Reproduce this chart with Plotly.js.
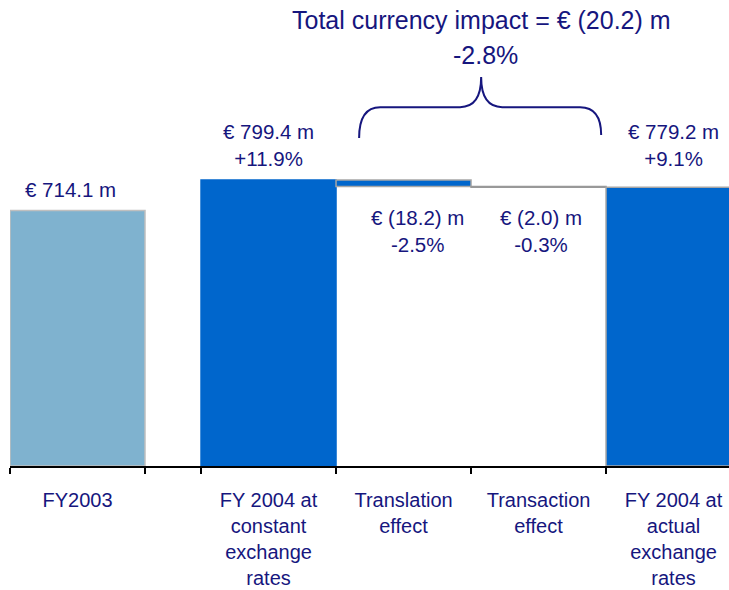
<!DOCTYPE html>
<html>
<head>
<meta charset="utf-8">
<script src="https://cdn.plot.ly/plotly-3.0.1.min.js"></script>
<style>html,body{margin:0;padding:0;background:#fff;}</style>
</head>
<body>
<div id="chart" style="width:729px;height:590px;"></div>
<script>
// ---- data ----
const categories = ['FY2003', 'FY 2004 at<br>constant<br>exchange<br>rates', 'Translation<br>effect', 'Transaction<br>effect', 'FY 2004 at<br>actual<br>exchange<br>rates'];
const values = [714.1, 799.4, -18.2, -2.0, 779.2];
const kinds = ['total', 'total', 'delta', 'delta', 'total'];
const pctLabels = ['', '+11.9%', '-2.5%', '-0.3%', '+9.1%'];
const impactValue = -20.2;
const impactPct = '-2.8%';

// ---- layout constants ----
const NAVY = '#16167e';
const FONT = 'Liberation Sans, Arial, sans-serif';
const gap = 0.415;            // extra gap after first column (in column widths)
const barColors = ['#7fb2cf', '#0066cc', '#0066cc', '#ffffff', '#0066cc'];
const lineColors = ['#bfbfbf', '#0066cc', '#a6a6a6', '#999999', '#a6a6a6'];

const pos = categories.map((c, i) => i + 0.5 + (i > 0 ? gap : 0));
let running = 0;
const bases = [], heights = [];
values.forEach((v, i) => {
  if (kinds[i] === 'total') { bases.push(0); heights.push(v); running = v; }
  else { bases.push(running + v); heights.push(-v); running += v; }
});

function euro(v) {
  return v < 0 ? '€ (' + Math.abs(v).toFixed(1) + ') m' : '€ ' + v.toFixed(1) + ' m';
}

const trace = {
  type: 'bar', x: pos, y: heights, base: bases, width: 1,
  marker: { color: barColors, line: { color: lineColors, width: 1.5 } },
  hoverinfo: 'skip', showlegend: false, xaxis: 'x', yaxis: 'y'
};
const tickTrace = { type: 'scatter', x: [pos[0]], y: [0], mode: 'none', xaxis: 'x2', yaxis: 'y', showlegend: false, hoverinfo: 'skip' };

const edges = [];
pos.forEach(p => { edges.push(p - 0.5); });
edges.push(pos[0] + 0.5);

const annotations = [];
const labelTop = Math.max.apply(null, heights.map((h, i) => kinds[i] === 'total' && i > 0 ? h : 0));
values.forEach((v, i) => {
  const font = { family: FONT, size: 20.5, color: NAVY };
  const txt = pctLabels[i] ? euro(v) + '<br>' + pctLabels[i] : euro(v);
  if (kinds[i] === 'total') {
    annotations.push({ x: pos[i], y: i === 0 ? heights[i] : labelTop, xref: 'x', yref: 'y', text: txt, showarrow: false,
      yanchor: 'bottom', yshift: 8, xshift: i === 0 ? -7 : 0, font: font });
  } else {
    annotations.push({ x: pos[i], y: bases[i], xref: 'x', yref: 'y', text: txt, showarrow: false,
      yanchor: 'top', yshift: -17, xshift: i === 2 ? 14 : 2, font: font });
  }
});

// brace over the two currency effects
const cx = (pos[2] + pos[3]) / 2 + 0.075;
const yH = 1003, yTip = 1087, yEndL = 917, yEndR = 925;
const xl = cx - 0.904, xr = cx + 0.889, r = 0.156;
const bracePath = `M ${xl},${yEndL} Q ${xl},${yH} ${xl + r},${yH} L ${cx - r},${yH} Q ${cx},${yH} ${cx},${yTip} Q ${cx},${yH} ${cx + r},${yH} L ${xr - r},${yH} Q ${xr},${yH} ${xr},${yEndR}`;

annotations.push({ x: cx, y: 0.957, xref: 'x', yref: 'paper', text: 'Total currency impact = ' + euro(impactValue),
  showarrow: false, yanchor: 'middle', font: { family: FONT, size: 25, color: NAVY } });
annotations.push({ x: cx, y: 0.882, xref: 'x', yref: 'paper', text: impactPct, xshift: 4,
  showarrow: false, yanchor: 'middle', font: { family: FONT, size: 25, color: NAVY } });

const xRange = [0, 719 / 135];
const layout = {
  width: 729, height: 590,
  margin: { l: 10, r: 0, t: 0, b: 124 },
  paper_bgcolor: '#fff', plot_bgcolor: '#fff',
  bargap: 0,
  xaxis: {
    range: xRange, tickvals: pos, ticktext: categories, tickangle: 0,
    ticks: 'outside', ticklen: 16, tickcolor: 'rgba(0,0,0,0)',
    showgrid: false, zeroline: false, showline: false,
    tickfont: { family: FONT, size: 20, color: NAVY }, fixedrange: true
  },
  xaxis2: {
    range: xRange, overlaying: 'x', anchor: 'y', side: 'bottom',
    tickvals: edges, showticklabels: false, ticks: 'outside', ticklen: 6, tickwidth: 1.5, tickcolor: '#000',
    showline: true, linecolor: '#000', linewidth: 1.5, showgrid: false, zeroline: false, fixedrange: true
  },
  yaxis: { range: [0, 466 / (286 / 799.4)], visible: false, fixedrange: true },
  shapes: [{ type: 'path', xref: 'x', yref: 'y', path: bracePath, line: { color: NAVY, width: 2 } }],
  annotations: annotations
};

Plotly.newPlot('chart', [trace, tickTrace], layout, { displayModeBar: false, staticPlot: true });
</script>
</body>
</html>
